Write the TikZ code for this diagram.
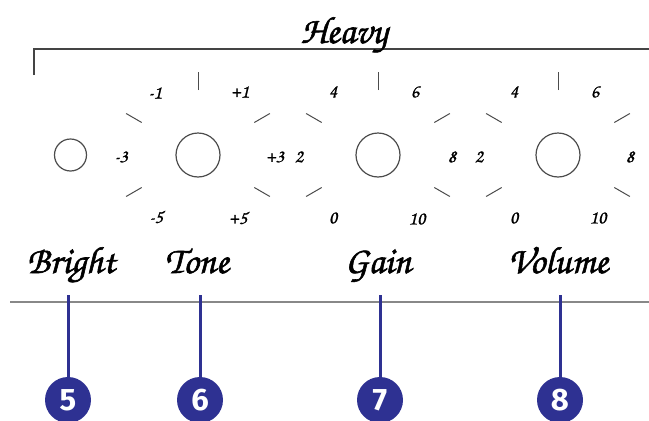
\documentclass[tikz,border=0pt]{standalone}
\usepackage{fontspec}
\newfontfamily\hand[FakeBold=1.5]{texgyrechorus-mediumitalic.otf}
\newfontfamily\handnum[FakeBold=1]{texgyrechorus-mediumitalic.otf}
\newfontfamily\callfont{Fira Sans Bold}
\definecolor{calloutblue}{HTML}{2E3192}
\definecolor{framegrey}{HTML}{444444}
\definecolor{rulegrey}{HTML}{888888}
\begin{document}
\begin{tikzpicture}[x=1pt,y=-1pt,
  knobring/.style={draw=black!70,line width=1.2pt},
  tickmark/.style={draw=black!70,line width=1pt},
  scalenum/.style={font=\handnum\fontsize{19}{19}\selectfont,inner sep=0pt},
  biglabel/.style={font=\hand\fontsize{38}{38}\selectfont,inner sep=0pt,anchor=base},
  leader/.style={draw=calloutblue,line width=3pt},
  callout/.style={circle,fill=calloutblue,minimum size=46pt,inner sep=0pt,text=white,font=\callfont\fontsize{31}{31}\selectfont}]
\useasboundingbox (0,0) rectangle (649,421);
% frame
\draw[framegrey,line width=1.5pt] (34,75) -- (34,49) -- (652,49);
\node[biglabel] (heavy) at (344,43) {Heavy};
% knobs
\node[knobring,circle,minimum size=32pt,inner sep=0pt] (bright) at (70.5,155) {};
\foreach \nm/\cx in {tone/198,gain/378,volume/558}{
  \node[knobring,circle,minimum size=44pt,inner sep=0pt] (\nm) at (\cx,155) {};
  \foreach \a in {270,330,210,150,30}{
    \draw[tickmark] (\nm.center) ++(\a:65) -- ++(\a:18);
  }
}
% tone scale
\node[scalenum] (tm1) at (155,93) {-1};
\node[scalenum] (tp1) at (240,92) {+1};
\node[scalenum] (tm3) at (121,157) {-3};
\node[scalenum] (tp3) at (275,157) {+3};
\node[scalenum] (tm5) at (156,217) {-5};
\node[scalenum] (tp5) at (238,218) {+5};
% gain scale
\node[scalenum] (g4) at (333,92) {4};
\node[scalenum] (g6) at (415,92) {6};
\node[scalenum] (g2) at (299,157) {2};
\node[scalenum] (g8) at (452,157) {8};
\node[scalenum] (g0) at (333,218) {0};
\node[scalenum] (g10) at (417,219) {10};
% volume scale
\node[scalenum] (v4) at (514,92) {4};
\node[scalenum] (v6) at (595,92) {6};
\node[scalenum] (v2) at (479,157) {2};
\node[scalenum] (v8) at (630,157) {8};
\node[scalenum] (v0) at (514,218) {0};
\node[scalenum] (v10) at (598,218) {10};
% labels
\node[biglabel] (lbright) at (71,273) {Bright};
\node[biglabel] (ltone) at (197,273) {Tone};
\node[biglabel] (lgain) at (378,273) {Gain};
\node[biglabel] (lvolume) at (558,273) {Volume};
% rule
\draw[rulegrey,line width=1.2pt] (10,302) -- (652,302);
% callouts
\node[callout] (c5) at (68,400) {5};
\node[callout] (c6) at (200,400) {6};
\node[callout] (c7) at (380,400) {7};
\node[callout] (c8) at (560,400) {8};
\coordinate (t5) at (68,295);
\coordinate (t6) at (200,295);
\coordinate (t7) at (380,295);
\coordinate (t8) at (560,295);
\draw[leader] (t5) -- (c5);
\draw[leader] (t6) -- (c6);
\draw[leader] (t7) -- (c7);
\draw[leader] (t8) -- (c8);
\end{tikzpicture}
\end{document}
